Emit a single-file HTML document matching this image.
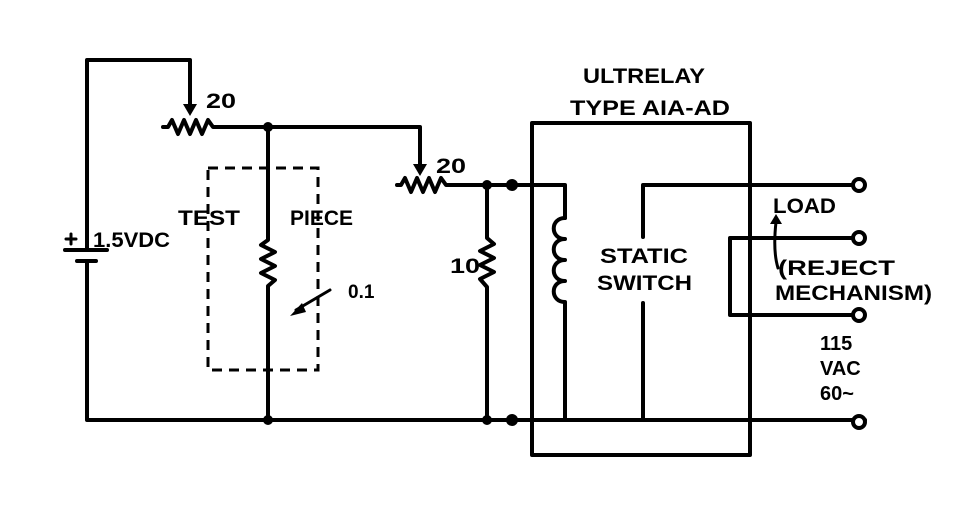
<!DOCTYPE html>
<html><head><meta charset="utf-8"><style>
html,body{margin:0;padding:0;background:#fff;width:966px;height:518px;overflow:hidden}
text{font-family:"Liberation Sans",sans-serif;font-weight:bold;fill:#000}
</style></head><body>
<svg width="966" height="518" viewBox="0 0 966 518" xmlns="http://www.w3.org/2000/svg">
<g fill="none" stroke="#000" stroke-width="4" stroke-linejoin="round" stroke-linecap="round">
<polyline points="87,250 87,60 190,60 190,108"/>
<polyline points="87,262 87,420 865,420" />
<line x1="65" y1="250" x2="107" y2="250"/>
<line x1="77" y1="261" x2="96" y2="261"/>
<polyline points="163,127 168,127 172,120 178,134 184,120 190,134 196,120 202,134 208,120 213,127 420,127 420,168"/>
<polyline points="268,127 268,240 261,245 275,252 261,259 275,266 261,273 275,280 268,286 268,420"/>
<polyline points="397,185 401,185 405,178 411,192 417,178 423,192 429,178 435,192 441,178 446,185 565,185 565,218"/>
<polyline points="487,185 487,238 494,244 480,251 494,258 480,265 494,272 480,279 487,287 487,420"/>
<path d="M565,218 C550,218 550,239 565,239 C550,239 550,260 565,260 C550,260 550,281 565,281 C550,281 550,302 565,302 L565,420 L512,420"/>
<rect x="532" y="123" width="218" height="332"/>
<polyline points="643,237 643,185 852,185"/>
<polyline points="643,303 643,420 852,420"/>
<polyline points="852,238 730,238 730,315 852,315"/>
</g>
<g fill="#fff" stroke="#000" stroke-width="4">
<circle cx="859" cy="185" r="6"/><circle cx="859" cy="238" r="6"/>
<circle cx="859" cy="315" r="6"/><circle cx="859" cy="422" r="6"/>
</g>
<rect x="208" y="168" width="110" height="202" fill="none" stroke="#000" stroke-width="3" stroke-dasharray="10,7"/>
<g fill="#000">
<circle cx="268" cy="127" r="5"/><circle cx="268" cy="420" r="5"/>
<circle cx="487" cy="185" r="5"/><circle cx="512" cy="185" r="6"/>
<circle cx="487" cy="420" r="5"/><circle cx="512" cy="420" r="6"/>
<polygon points="183,104 197,104 190,116"/>
<polygon points="413,164 427,164 420,176"/>
<polygon points="290,316 302,303 306,312"/>
<polygon points="770,224 782,224 776,214"/>
</g>
<g fill="none" stroke="#000" stroke-width="3" stroke-linecap="round">
<line x1="330" y1="290" x2="296" y2="310"/>
<path d="M778,268 C774,255 774,240 776,222"/>
<line x1="71" y1="234" x2="71" y2="244"/><line x1="66" y1="239" x2="76" y2="239"/>
</g>
<g font-size="21">
<text x="206" y="108" textLength="30" lengthAdjust="spacingAndGlyphs">20</text>
<text x="436" y="173" textLength="30" lengthAdjust="spacingAndGlyphs">20</text>
<text x="93" y="247" textLength="77" lengthAdjust="spacingAndGlyphs">1.5VDC</text>
<text x="178" y="225" textLength="62" lengthAdjust="spacingAndGlyphs">TEST</text>
<text x="290" y="225" textLength="63" lengthAdjust="spacingAndGlyphs">PIECE</text>
<text x="348" y="298" font-size="19">0.1</text>
<text x="450" y="273" textLength="30" lengthAdjust="spacingAndGlyphs">10</text>
<text x="583" y="83" textLength="122" lengthAdjust="spacingAndGlyphs">ULTRELAY</text>
<text x="570" y="115" textLength="160" lengthAdjust="spacingAndGlyphs">TYPE AIA-AD</text>
<text x="600" y="263" textLength="88" lengthAdjust="spacingAndGlyphs">STATIC</text>
<text x="597" y="290" textLength="95" lengthAdjust="spacingAndGlyphs">SWITCH</text>
<text x="773" y="213" textLength="63" lengthAdjust="spacingAndGlyphs">LOAD</text>
<text x="778" y="275" textLength="117" lengthAdjust="spacingAndGlyphs">(REJECT</text>
<text x="775" y="300" textLength="157" lengthAdjust="spacingAndGlyphs">MECHANISM)</text>
<text x="820" y="350" font-size="20">115</text>
<text x="820" y="375" font-size="20">VAC</text>
<text x="820" y="400" font-size="20">60~</text>
</g>
</svg>
</body></html>
